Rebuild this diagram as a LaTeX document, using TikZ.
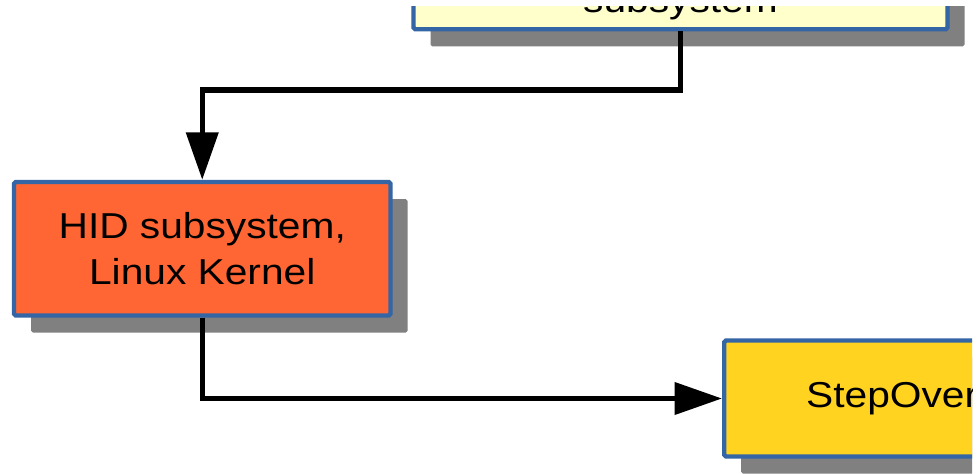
\documentclass[tikz,border=0pt]{standalone}
\usepackage{fontspec}
\setmainfont{Liberation Sans}[FakeStretch=1.13]
\usetikzlibrary{positioning}
\usetikzlibrary{arrows.meta}
\usetikzlibrary{shadows}
\definecolor{boxblue}{HTML}{3465A4}
\definecolor{boxred}{HTML}{FF6633}
\definecolor{boxyellow}{HTML}{FFD320}
\definecolor{boxpale}{HTML}{FFFFCC}
\definecolor{shadowgray}{HTML}{808080}
\tikzset{
    mybox/.style = {rectangle, draw=boxblue, line width=2.5pt, rounded corners=1pt, align=center,
        drop shadow={shadow xshift=0.34cm, shadow yshift=-0.34cm, fill=shadowgray, opacity=1},
        font=\fontsize{20.5}{26.2}\selectfont},
    myboxr/.style = {mybox, fill=boxred},
    myboxy/.style = {mybox, fill=boxyellow},
    myboxp/.style = {mybox, fill=boxpale},
    edgen/.style = {-{Triangle[length=27pt,width=18pt]}, line width=3pt, black},
}

\begin{document}
\begin{tikzpicture}
\useasboundingbox (0,0) rectangle (19.58,9.46);
\clip (0,0) rectangle (19.44,9.32);
\node[myboxp, anchor=south, minimum width=10.68cm, text height=2.3cm, text depth=0pt, inner ysep=0.33cm] at (13.61,8.83) (usb) {subsystem};
\node[myboxr, minimum width=7.53cm, minimum height=2.67cm] at (4.045,4.485) (hid) {HID subsystem,\\Linux Kernel};
\node[myboxy, anchor=west, text height=1.34cm, text depth=0.98cm, inner ysep=0pt, inner xsep=1.64cm] at (14.44,1.49) (step) {StepOver};
%
\draw[edgen] (usb.south) -- ++(0,-1.17) -| (hid.north);
\draw[edgen] (hid.south) |- (step.west);
\end{tikzpicture}
\end{document}
